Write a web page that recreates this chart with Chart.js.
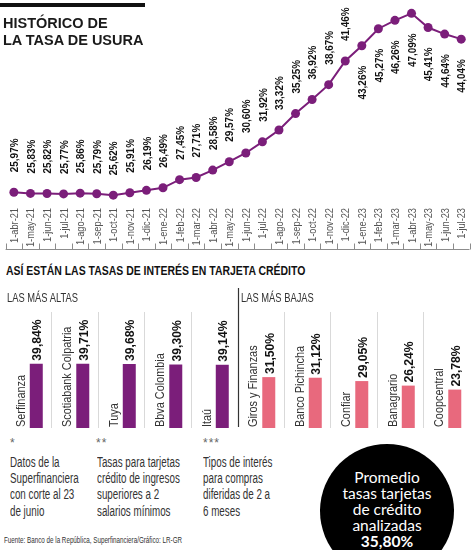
<!DOCTYPE html>
<html>
<head>
<meta charset="utf-8">
<script src="https://cdn.jsdelivr.net/npm/chart.js@4.4.1/dist/chart.umd.min.js"></script>
<style>
  body { margin: 0; background: #fff; }
  #page { position: relative; width: 474px; height: 550px; overflow: hidden;
          font-family: 'Liberation Sans', sans-serif; color: #222; }
  .abs { position: absolute; white-space: nowrap; }
  .sq { transform-origin: 0 0; }
  canvas { position: absolute; left: 0; }
  #rule { left: 0; top: 3px; width: 145px; height: 4px; background: #111; }
  #title { left: 3px; top: 15px; font: bold 14.5px/17px 'Liberation Sans', sans-serif; color: #1a1a1a; }
  #heading { left: 6px; top: 263px; font-weight: bold; font-size: 13.5px; line-height: 16px; color: #111; transform: scaleX(0.775); }
  .group { top: 290px; font-size: 13px; line-height: 15px; color: #333; transform: scaleX(0.72); }
  .star { top: 436px; font-size: 12px; color: #666; letter-spacing: 1px; }
  .note { top: 454px; font-size: 14px; line-height: 16.2px; color: #333; transform: scaleX(0.7); }
  #source { left: 4px; top: 534px; font-size: 9.5px; line-height: 12px; color: #333; transform: scaleX(0.66); }
  #circle { left: 320px; top: 444px; width: 134px; height: 134px; border-radius: 50%; background: #000; }
  #avg { left: 320px; top: 469px; width: 134px; text-align: center; color: #fff;
         font: 15.5px/16px Lato, sans-serif; }
  #avg b { font-weight: bold; }
</style>
</head>
<body>
<div id="page">
  <canvas id="usuraChart" width="474" height="255" style="top:0"></canvas>
  <canvas id="tarjetasChart" width="474" height="155" style="top:280px"></canvas>

  <div id="rule" class="abs"></div>
  <div id="title" class="abs">HISTÓRICO DE<br>LA TASA DE USURA</div>
  <div id="heading" class="abs sq">ASÍ ESTÁN LAS TASAS DE INTERÉS EN TARJETA CRÉDITO</div>
  <div class="abs sq group" style="left:7px">LAS MÁS ALTAS</div>
  <div class="abs sq group" style="left:241px">LAS MÁS BAJAS</div>

  <div class="abs star" style="left:10px">*</div>
  <div class="abs star" style="left:96px">**</div>
  <div class="abs star" style="left:203px">***</div>
  <div class="abs sq note" style="left:10px">Datos de la<br>Superfinanciera<br>con corte al 23<br>de junio</div>
  <div class="abs sq note" style="left:97px">Tasas para tarjetas<br>crédito de ingresos<br>superiores a 2<br>salarios mínimos</div>
  <div class="abs sq note" style="left:203px">Tipos de interés<br>para compras<br>diferidas de 2 a<br>6 meses</div>
  <div id="source" class="abs sq">Fuente: Banco de la República, Superfinanciera/Gráfico: LR-GR</div>

  <div id="circle" class="abs"></div>
  <div id="avg" class="abs">Promedio<br>tasas tarjetas<br>de crédito<br>analizadas<br><b>35,80%</b></div>
</div>

<script>
// tasa de usura, mes a mes
const months = ["1-abr-21", "1-may-21", "1-jun-21", "1-jul-21", "1-ago-21", "1-sep-21", "1-oct-21",
                "1-nov-21", "1-dic-21", "1-ene-22", "1-feb-22", "1-mar-22", "1-abr-22", "1-may-22",
                "1-jun-22", "1-jul-22", "1-ago-22", "1-sep-22", "1-oct-22", "1-nov-22", "1-dic-22",
                "1-ene-23", "1-feb-23", "1-mar-23", "1-abr-23", "1-may-23", "1-jun-23", "1-jul-23"];
const usura = [25.97, 25.83, 25.82, 25.77, 25.86, 25.79, 25.62, 25.91, 26.19, 26.49, 27.45, 27.71,
               28.58, 29.57, 30.60, 31.92, 33.32, 35.25, 36.92, 38.67, 41.46, 43.26, 45.27, 46.26,
               47.09, 45.41, 44.64, 44.04];

// tasas de tarjeta de crédito por entidad
const highBanks = ["Serfinanza", "Scotiabank Colpatria", "Tuya", "Bbva Colombia", "Itaú"];
const highRates = [39.84, 39.71, 39.68, 39.30, 39.14];
const lowBanks = ["Giros y Finanzas", "Banco Pichincha", "Confiar", "Banagrario", "Coopcentral"];
const lowRates = [31.50, 31.12, 29.05, 26.24, 23.78];

const PURPLE = "#7b1e7a";
const PINK = "#e8697d";
const FONT = "'Liberation Sans', sans-serif";

function pct(v) {
    return v.toFixed(2).replace(".", ",") + "%";
}

// vertical text, squeezed along its own direction to look condensed
function upText(ctx, text, x, y, font, align, squeeze) {
    ctx.save();
    ctx.translate(x, y);
    ctx.rotate(-Math.PI / 2);
    ctx.scale(squeeze, 1);
    ctx.font = font;
    ctx.textAlign = align;
    ctx.textBaseline = "alphabetic";
    ctx.fillText(text, 0, 0);
    ctx.restore();
}

// value labels, month labels and the bracket under them
const usuraDecor = {
    id: "usuraDecor",
    afterDatasetsDraw(chart) {
        const ctx = chart.ctx;
        const meta = chart.getDatasetMeta(0);
        const xs = chart.scales.x;
        ctx.save();
        ctx.fillStyle = "#111";
        meta.data.forEach(function (pt, i) {
            const above = i <= 20;
            upText(ctx, pct(usura[i]), pt.x + 4.2, above ? pt.y - 20 : pt.y + 20,
                   "bold 11.7px " + FONT, above ? "left" : "right", 0.85);
        });

        ctx.fillStyle = "#555";
        months.forEach(function (m, i) {
            upText(ctx, m, xs.getPixelForValue(i) + 4, xs.top + 8, "11px " + FONT, "right", 0.84);
        });

        const step = xs.getPixelForValue(1) - xs.getPixelForValue(0);
        const yb = Math.round(xs.top + 49) + 0.5;
        ctx.strokeStyle = "#8c8c8c";
        ctx.lineWidth = 1;
        ctx.beginPath();
        ctx.moveTo(xs.left, yb);
        ctx.lineTo(xs.right, yb);
        for (let i = 0; i <= months.length; i++) {
            const x = Math.round(xs.getPixelForValue(0) + (i - 0.5) * step) + 0.5;
            ctx.moveTo(x, yb - 6);
            ctx.lineTo(x, yb);
        }
        ctx.stroke();
        ctx.restore();
    }
};

new Chart(document.getElementById("usuraChart"), {
    type: "line",
    data: {
        labels: months,
        datasets: [{
            data: usura,
            borderColor: PURPLE,
            borderWidth: 2,
            pointRadius: 4.5,
            pointBackgroundColor: PURPLE,
            pointBorderWidth: 0,
            tension: 0
        }]
    },
    options: {
        responsive: false,
        animation: false,
        layout: { padding: { left: 5.6, right: 0.6, top: 0, bottom: 0 } },
        plugins: { legend: { display: false }, tooltip: { enabled: false } },
        scales: {
            x: {
                offset: true,
                grid: { display: false, drawTicks: false },
                border: { display: false },
                ticks: { display: false },
                afterFit: function (scale) { scale.height = 55; }
            },
            y: { display: false, min: 25.05, max: 48.13 }
        }
    },
    plugins: [usuraDecor]
});

const banks = highBanks.concat(lowBanks);
const rates = highRates.concat(lowRates);

// bank names, values and the dark divider between both groups
const tarjetasDecor = {
    id: "tarjetasDecor",
    afterDatasetsDraw(chart) {
        const ctx = chart.ctx;
        const meta = chart.getDatasetMeta(1);
        ctx.save();
        meta.data.forEach(function (bar, i) {
            const half = bar.width / 2;
            ctx.fillStyle = "#333";
            upText(ctx, banks[i], bar.x - half - 5, bar.base - 1, "12.5px " + FONT, "left", 0.87);
            ctx.fillStyle = "#111";
            upText(ctx, pct(rates[i]), bar.x + 4.8, bar.y - 3, "bold 13.5px " + FONT, "left", 0.9);
        });

        const xs = chart.scales.x;
        const xm = Math.round((xs.getPixelForValue(highBanks.length - 1) + xs.getPixelForValue(highBanks.length)) / 2) + 0.5;
        ctx.strokeStyle = "#333";
        ctx.lineWidth = 1.2;
        ctx.beginPath();
        ctx.moveTo(xm, 8);
        ctx.lineTo(xm, chart.chartArea.bottom - 1);
        ctx.stroke();
        ctx.restore();
    }
};

new Chart(document.getElementById("tarjetasChart"), {
    type: "bar",
    data: {
        labels: banks,
        datasets: [
            { data: [] }, // hueco a la izquierda de cada barra para el nombre
            {
                data: rates,
                backgroundColor: function (c) { return c.dataIndex < highBanks.length ? PURPLE : PINK; }
            }
        ]
    },
    options: {
        responsive: false,
        animation: false,
        layout: { padding: { left: 5, right: 4, top: 32, bottom: 7 } },
        datasets: { bar: { categoryPercentage: 0.69, barPercentage: 0.81 } },
        plugins: { legend: { display: false }, tooltip: { enabled: false } },
        scales: {
            x: {
                grid: {
                    offset: true, drawTicks: false, lineWidth: 1,
                    color: function (c) {
                        return (c.index > 0 && c.index < banks.length && c.index !== highBanks.length) ? "#d9d9d9" : "rgba(0,0,0,0)";
                    }
                },
                border: { display: false },
                ticks: { display: false },
                afterFit: function (scale) { scale.height = 0; }
            },
            y: { display: false, min: 0, max: 71.8 }
        }
    },
    plugins: [tarjetasDecor]
});
</script>
</body>
</html>
